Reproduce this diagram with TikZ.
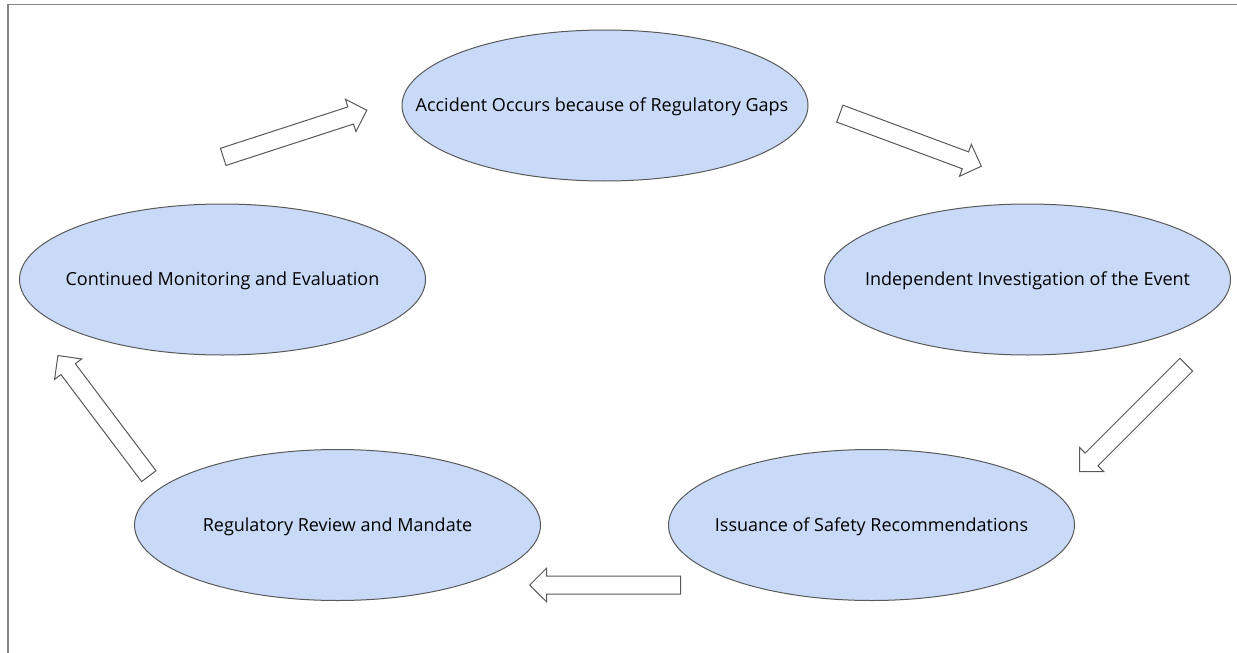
\documentclass[tikz,border=0pt]{standalone}
\usepackage{fontspec}
\setmainfont{Open Sans}
\usetikzlibrary{shapes.geometric,shapes.arrows}

\definecolor{stagefill}{HTML}{C9DAF8}
\definecolor{stageline}{HTML}{595959}
\definecolor{framegray}{HTML}{858585}

\tikzset{
  stage/.style={ellipse, draw=stageline, fill=stagefill, line width=1pt,
    minimum width=406pt, minimum height=151pt, inner sep=0pt},
  stagetext/.style={font=\fontsize{18}{22}\selectfont, text height=12.8pt,
    text depth=0pt, inner sep=0pt},
  blockarrow/.style={single arrow, draw=stageline, fill=white, line width=1pt,
    minimum height=151pt, minimum width=0pt, inner xsep=0pt, inner ysep=8.5pt,
    single arrow head extend=8pt, anchor=tip}
}

\begin{document}
\begin{tikzpicture}[x=1pt,y=-1pt]
\useasboundingbox (0,0) rectangle (1237,653);
\draw[framegray, line width=1.5pt] (8,653) -- (8,4.5) -- (1237,4.5);

% the five stages
\node[stage] (accident) at (605,105.5) {};
\node[stagetext, xshift=-3pt] (accident-t) at (accident) {Accident Occurs because of Regulatory Gaps};
\node[stage] (investigation) at (1027.5,279.5) {};
\node[stagetext] (investigation-t) at (investigation) {Independent Investigation of the Event};
\node[stage] (recommend) at (871.5,525) {};
\node[stagetext] (recommend-t) at (recommend) {Issuance of Safety Recommendations};
\node[stage] (review) at (337.5,525) {};
\node[stagetext] (review-t) at (review) {Regulatory Review and Mandate};
\node[stage] (monitor) at (222.5,279.5) {};
\node[stagetext] (monitor-t) at (monitor) {Continued Monitoring and Evaluation};

% block arrows round the cycle, placed by their tips
\node[blockarrow, rotate=18] (a1) at (367.5,110) {};
\node[blockarrow, rotate=-20.4] (a2) at (982,166.5) {};
\node[blockarrow, rotate=-135] (a3) at (1079,472) {};
\node[blockarrow, rotate=180] (a4) at (529,585) {};
\node[blockarrow, rotate=127] (a5) at (57.5,355) {};
\end{tikzpicture}
\end{document}
